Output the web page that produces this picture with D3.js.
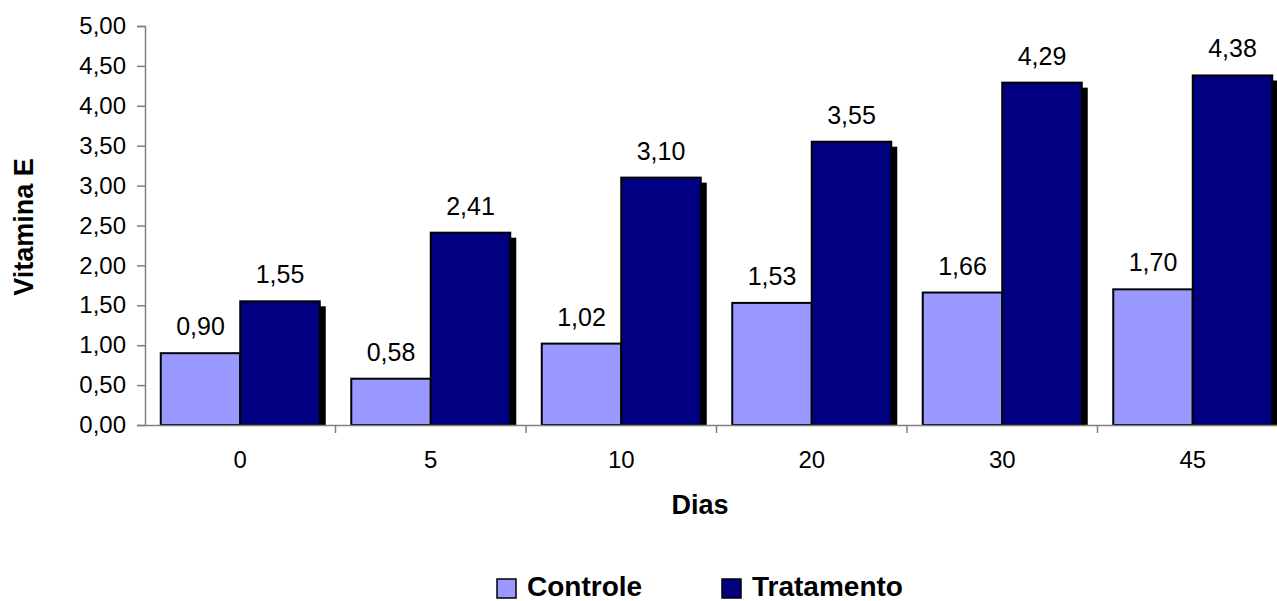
<!DOCTYPE html>
<html>
<head>
<meta charset="utf-8">
<script src="https://cdn.jsdelivr.net/npm/d3@7"></script>
<style>
  body { margin: 0; background: #fff; }
  text { font-family: Arial, "Liberation Sans", sans-serif; }
</style>
</head>
<body>
<div id="viz"></div>
<script>
// chart data
const dias = ['0', '5', '10', '20', '30', '45'];
const controle = [0.90, 0.58, 1.02, 1.53, 1.66, 1.70];
const tratamento = [1.55, 2.41, 3.10, 3.55, 4.29, 4.38];
const yTicks = [0, 0.5, 1, 1.5, 2, 2.5, 3, 3.5, 4, 4.5, 5];
const seriesNames = ['Controle', 'Tratamento'];
const seriesColors = ['#9999FF', '#000080'];

const width = 1277, height = 601;
const left = 145, step = 190.5, baseY = 425, topY = 26;

const ptBR = d3.formatLocale({ decimal: ',', thousands: '.', grouping: [3], currency: ['', ''] });
const fmt = ptBR.format('.2f');

const svg = d3.select('#viz').append('svg')
  .attr('width', width)
  .attr('height', height);

const x0 = d3.scaleBand()
  .domain(dias)
  .range([left, left + step * dias.length])
  .padding(0);

const gap = 31.5;
const x1 = d3.scaleBand()
  .domain(seriesNames)
  .range([gap / 2, x0.bandwidth() - gap / 2]);

const y = d3.scaleLinear()
  .domain([0, 5])
  .range([baseY, topY]);

const color = d3.scaleOrdinal().domain(seriesNames).range(seriesColors);

const rows = dias.map((d, i) => ({
  dia: d,
  values: [
    { key: 'Controle', value: controle[i] },
    { key: 'Tratamento', value: tratamento[i] }
  ]
}));

// y axis
const yAxis = svg.append('g')
  .attr('transform', `translate(${left},0)`)
  .call(d3.axisLeft(y).tickValues(yTicks).tickFormat(fmt).tickSizeOuter(0).tickSize(8));
yAxis.select('.domain').attr('stroke', '#808080').attr('stroke-width', 1.5);
yAxis.selectAll('.tick line').attr('stroke', '#808080').attr('stroke-width', 1.5);
yAxis.selectAll('.tick text')
  .attr('x', -19)
  .attr('fill', '#000')
  .style('font-size', '24px')
  .style('font-family', 'Arial, "Liberation Sans", sans-serif');

// groups
const groups = svg.selectAll('.grp')
  .data(rows)
  .enter().append('g')
  .attr('class', 'grp')
  .attr('transform', d => `translate(${x0(d.dia)},0)`);

// shadows
groups.selectAll('.shadow')
  .data(d => d.values)
  .enter().append('rect')
  .attr('x', d => x1(d.key) + 6)
  .attr('y', d => y(d.value) + 5)
  .attr('width', x1.bandwidth())
  .attr('height', d => baseY - y(d.value) - 5)
  .attr('fill', '#000');

// bars
groups.selectAll('.bar')
  .data(d => d.values)
  .enter().append('rect')
  .attr('class', 'bar')
  .attr('x', d => x1(d.key))
  .attr('y', d => y(d.value))
  .attr('width', x1.bandwidth())
  .attr('height', d => baseY - y(d.value))
  .attr('fill', d => color(d.key))
  .attr('stroke', '#000')
  .attr('stroke-width', 2);

// value labels
groups.selectAll('.lbl')
  .data(d => d.values)
  .enter().append('text')
  .attr('x', d => x1(d.key) + x1.bandwidth() / 2)
  .attr('y', d => y(d.value) - 18)
  .attr('text-anchor', 'middle')
  .style('font-size', '25px')
  .text(d => fmt(d.value));

// x axis
const xAxis = svg.append('g')
  .attr('transform', `translate(0,${baseY})`)
  .call(d3.axisBottom(x0).tickSize(0).tickSizeOuter(0));
xAxis.select('.domain').attr('stroke', '#808080').attr('stroke-width', 1.5);
xAxis.selectAll('.tick text')
  .attr('y', 26)
  .attr('fill', '#000')
  .style('font-size', '24px')
  .style('font-family', 'Arial, "Liberation Sans", sans-serif');
// boundary ticks between categories
xAxis.selectAll('.bound')
  .data(dias.slice(1))
  .enter().append('line')
  .attr('x1', d => x0(d))
  .attr('x2', d => x0(d))
  .attr('y1', 0)
  .attr('y2', 8)
  .attr('stroke', '#808080')
  .attr('stroke-width', 1.5);

// axis titles
svg.append('text')
  .attr('x', 700)
  .attr('y', 514)
  .attr('text-anchor', 'middle')
  .style('font-size', '27px')
  .style('font-weight', 'bold')
  .text('Dias');

svg.append('text')
  .attr('transform', 'translate(33,227) rotate(-90)')
  .attr('text-anchor', 'middle')
  .style('font-size', '27px')
  .style('font-weight', 'bold')
  .text('Vitamina E');

// legend
const legendX = [497, 722];
const legend = svg.append('g').attr('class', 'legend');
const li = legend.selectAll('.legend-item')
  .data(seriesNames)
  .enter().append('g')
  .attr('transform', (d, i) => `translate(${legendX[i]},579)`);
li.append('rect')
  .attr('width', 19)
  .attr('height', 19)
  .attr('fill', d => color(d))
  .attr('stroke', '#000')
  .attr('stroke-width', 1.5);
li.append('text')
  .attr('x', 30)
  .attr('y', 17)
  .style('font-size', '28px')
  .style('font-weight', 'bold')
  .text(d => d);
</script>
</body>
</html>
